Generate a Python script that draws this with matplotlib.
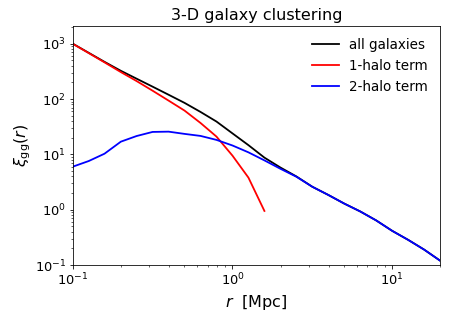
import matplotlib
matplotlib.use('Agg')
import matplotlib.pyplot as plt

# separation grid [Mpc]
r = [0.1, 0.126, 0.158, 0.2, 0.251, 0.316, 0.398, 0.501, 0.631, 0.794,
     1.0, 1.259, 1.585, 1.995, 2.512, 3.162, 3.981, 5.012, 6.31, 7.943,
     10.0, 12.59, 15.85, 19.95]

# total correlation function
xi_all = [1006, 686, 472, 325, 234, 168, 120, 85.5, 58.6, 39.3,
          24.0, 14.7, 8.75, 5.8, 4.0, 2.6, 1.85, 1.29, 0.93, 0.64,
          0.415, 0.285, 0.19, 0.12]

# 1-halo term (stops where it drops below ~1)
r_1h = r[:13]
xi_1h = [1000, 678, 462, 308, 212, 142, 94, 62, 37, 21, 9.5, 3.8, 0.95]

# 2-halo term
xi_2h = [6.0, 7.6, 10.3, 17.0, 21.5, 25.5, 25.8, 23.5, 21.6, 18.3,
         14.5, 10.9, 7.8, 5.5, 3.95, 2.6, 1.85, 1.29, 0.93, 0.64,
         0.415, 0.285, 0.19, 0.12]

# rendered at 72 dpi, so points == pixels
fig = plt.figure(figsize=(452 / 72, 317 / 72), dpi=72)
ax = fig.add_axes([0.161, 0.164, 0.813, 0.754])

ax.loglog(r, xi_all, color='black', lw=1.8, label='all galaxies')
ax.loglog(r_1h, xi_1h, color='red', lw=1.8, label='1-halo term')
ax.loglog(r, xi_2h, color='blue', lw=1.8, label='2-halo term')

ax.set_xlim(0.1, 20)
ax.set_ylim(0.1, 2100)
ax.tick_params(labelsize=13)

ax.set_xlabel(r'$r$  [Mpc]', fontsize=16)
ax.set_ylabel(r'$\xi_{\rm gg}(r)$', fontsize=16, labelpad=2)
ax.set_title('3-D galaxy clustering', fontsize=16)
ax.legend(loc='upper right', frameon=False, fontsize=13.5)

fig.savefig('out.png', dpi=72)
